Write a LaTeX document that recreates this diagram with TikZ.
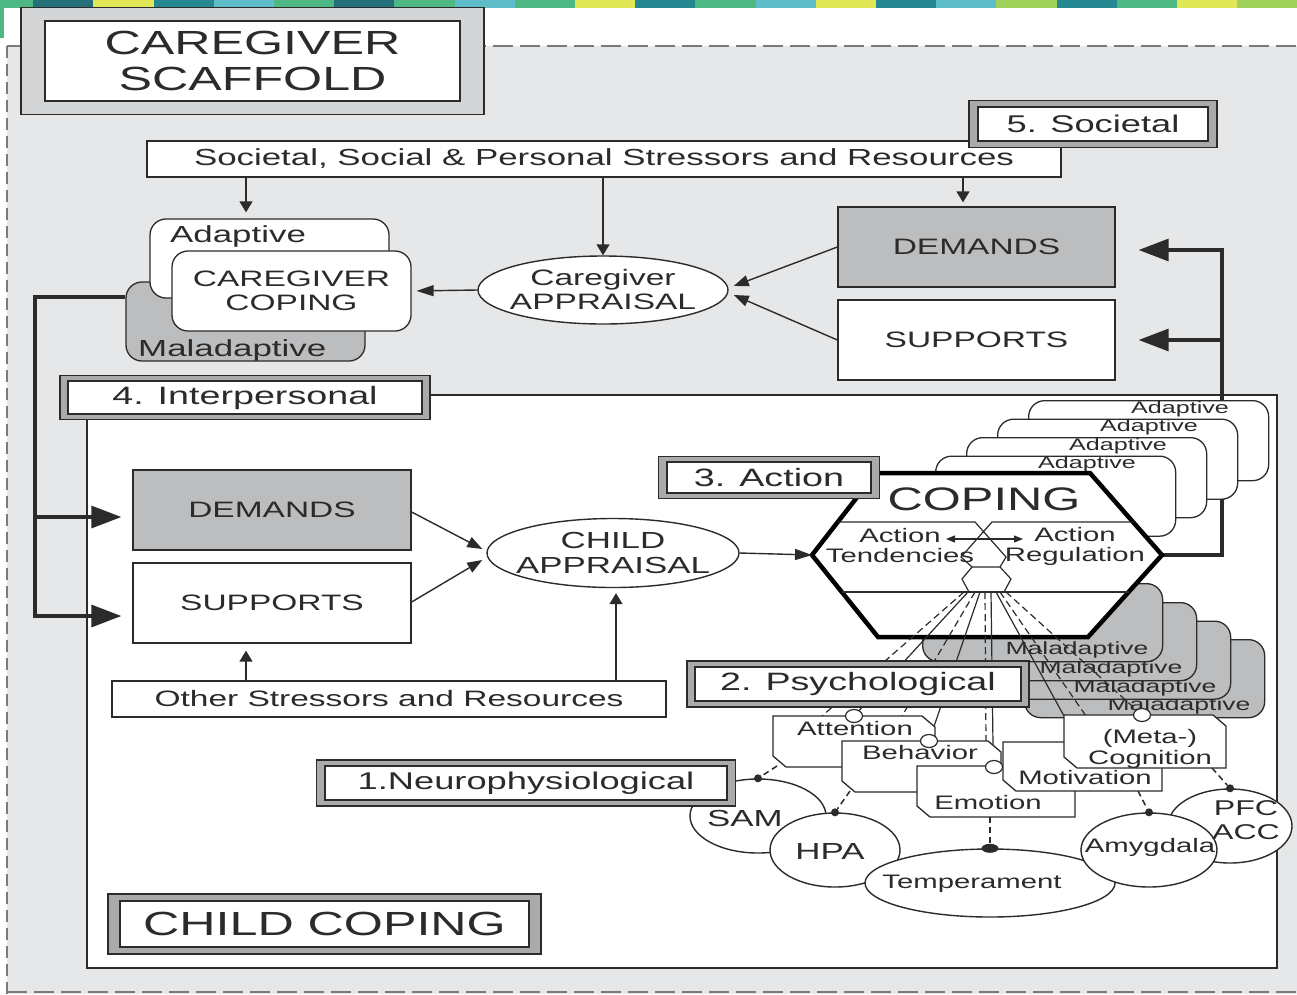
\documentclass[tikz,border=0pt]{standalone}
\usepackage{fontspec}
\setmainfont{Liberation Sans}[FakeStretch=1.5]
\usetikzlibrary{calc,arrows.meta,shapes.geometric}

\definecolor{bggray}{HTML}{E6E7E8}
\definecolor{boxgray}{HTML}{BCBDBF}
\definecolor{bandgray}{HTML}{A9AAAC}
\definecolor{bandlight}{HTML}{D4D5D7}
\definecolor{ink}{HTML}{2B2B2B}
\definecolor{dashgray}{HTML}{7A7A7A}
\definecolor{sgreen}{HTML}{4DB884}
\definecolor{sdteal}{HTML}{236F7A}
\definecolor{syellow}{HTML}{E1E858}
\definecolor{steal}{HTML}{25878F}
\definecolor{scyan}{HTML}{5EBDC9}
\definecolor{slime}{HTML}{A0D15A}

% sizes are given as nominal widths; the wide face is set a little smaller
\newcommand\fsz[1]{\fontsize{\fpeval{#1*0.93}}{#1}\selectfont}
\newcommand\fszb[2]{\fontsize{\fpeval{#1*0.93}}{#2}\selectfont}

% level label: grey frame with a white inner box carrying the text
% name, centre, inner width, inner height, band x, band y, band colour, font size, text
\newcommand\framedlabel[9]{%
  \draw[frameout, fill=#7] ($(#2)+({-#3/2-#5},{-#4/2-#6})$) rectangle ($(#2)+({#3/2+#5},{#4/2+#6})$);
  \node[framein, font=\fsz{#8}, minimum width=#3pt, minimum height=#4pt] (#1) at (#2) {#9};}

% psychological process box, top-right and bottom-left corners cut
\newcommand\psybox[4]{%
  \draw[psy] (#1,#2) -- ({#3-13},#2) -- (#3,{#2+11}) -- (#3,#4) -- ({#1+13},#4) -- (#1,{#4-11}) -- cycle;}

\tikzset{
  box/.style={draw=ink, line width=1.3pt, rectangle, inner sep=0pt, align=center, text=ink},
  rbox/.style={draw=ink, line width=1.3pt, rectangle, rounded corners=16pt, inner sep=0pt},
  ell/.style={draw=ink, line width=1.4pt, ellipse, fill=white, inner sep=0pt},
  frameout/.style={draw=ink, line width=1.3pt},
  framein/.style={draw=ink, line width=2pt, fill=white, inner sep=0pt, align=center, text=ink},
  psy/.style={draw=ink, line width=1.3pt, fill=white, line join=miter},
  knob/.style={ellipse, draw=ink, line width=1.2pt, fill=white, minimum width=17pt, minimum height=13pt, inner sep=0pt},
  blob/.style={circle, fill=ink, minimum size=8pt, inner sep=0pt},
  txt/.style={inner sep=0pt, text=ink, align=center},
  cline/.style={draw=ink, line width=1.4pt},
  varr/.style={cline, -{Triangle[length=11pt,width=13pt]}},
  harr/.style={cline, -{Triangle[length=17pt,width=11pt]}},
  darr/.style={cline, -{Triangle[length=15pt,width=11pt]}},
  fb/.style={draw=ink, line width=3.2pt},
  bigarr/.style={fb, -{Triangle[length=30pt,width=22pt]}},
  fan/.style={draw=ink, line width=1.2pt},
  fandash/.style={fan, dash pattern=on 7pt off 4pt},
  link/.style={draw=ink, line width=1.5pt, dash pattern=on 6pt off 4pt},
}

\begin{document}
\begin{tikzpicture}[x=1pt, y=-1pt]
\clip (0,0) rectangle (1297,994);
\fill[white] (0,0) rectangle (1297,994);

% colour strip along the top edge
\foreach \c [count=\i from 0] in {sgreen,sdteal,syellow,steal,scyan,sgreen,sdteal,sgreen,scyan,sgreen,syellow,steal,sgreen,scyan,syellow,steal,scyan,slime,steal,sgreen,syellow,slime}
  \fill[\c] ({max(0,-27+\i*60.2)},0) rectangle ({-27+(\i+1)*60.2},8);
\fill[sgreen] (0,0) rectangle (4,38);

% caregiver scaffold region
\fill[bggray] (7,46) rectangle (1297,994);
\draw[dashgray, line width=1.6pt, dash pattern=on 20pt off 7pt] (7,46) -- (1297,46);
\draw[dashgray, line width=1.6pt, dash pattern=on 20pt off 7pt] (7,992) -- (1297,992);
\draw[dashgray, line width=1.6pt, dash pattern=on 12pt off 6pt] (7,46) -- (7,994);

\framedlabel{scaffold}{252.5,61}{415}{80}{24}{13.5}{bandlight}{36}{CAREGIVER\\SCAFFOLD}

% societal level
\node[box, fill=white, font=\fsz{25}, minimum width=914pt, minimum height=36pt] (soc) at (604,159)
  {Societal, Social \& Personal Stressors and Resources};
\framedlabel{societal}{1093,124}{230}{34}{9}{6.5}{bandgray}{26}{5. Societal}

% caregiver coping stack
\node[rbox, fill=boxgray, minimum width=239pt, minimum height=79pt] (cgmal) at (245.5,321.5) {};
\node[txt, anchor=base west, font=\fsz{25}] (cgmalt) at (138,356) {Maladaptive};
\node[rbox, fill=white, minimum width=239pt, minimum height=79pt] (cgad) at (269.5,258.5) {};
\node[txt, anchor=base west, font=\fsz{25}] (cgadt) at (170,242) {Adaptive};
\node[rbox, fill=white, minimum width=239pt, minimum height=80pt, font=\fszb{24}{24}, align=center, text=ink] (cgcop) at (291.5,291) {CAREGIVER\\COPING};

\node[ell, minimum width=250pt, minimum height=68pt] (capp) at (603,290) {};
\node[txt, font=\fszb{24}{24}] (cappt) at (capp.center) {Caregiver\\APPRAISAL};
\node[box, fill=boxgray, font=\fsz{24}, minimum width=277pt, minimum height=80pt] (cdem) at (976.5,247) {DEMANDS};
\node[box, fill=white, font=\fsz{24}, minimum width=277pt, minimum height=80pt] (csup) at (976.5,340) {SUPPORTS};

\coordinate (sx1) at (246,0);
\coordinate (sx3) at (963,0);
\draw[varr, shorten >=6pt] (soc.south -| sx1) -- (cgad.north -| sx1);
\draw[varr] (soc.south -| capp.north) -- (capp.north);
\draw[varr, shorten >=4pt] (soc.south -| sx3) -- (cdem.north -| sx3);
\draw[harr, shorten >=5pt] (capp.west) -- (cgcop.east);
\draw[darr] (cdem.west) -- ($(capp.east)+(5,-4)$);
\draw[darr] (csup.west) -- ($(capp.east)+(5,5)$);

% child coping frame
\node[draw=ink, line width=1.4pt, fill=white, minimum width=1190pt, minimum height=573pt, inner sep=0pt] (childbox) at (682,681.5) {};
\framedlabel{interpersonal}{245,397.5}{354}{33}{8}{5.5}{bandgray}{27}{4. Interpersonal}

% hexagon corners
\coordinate (hexL) at (812,555);
\coordinate (hexTL) at (876,473);
\coordinate (hexTR) at (1090,473);
\coordinate (hexR) at (1162,555);
\coordinate (hexBR) at (1088,637);
\coordinate (hexBL) at (878,637);

% child demands / supports
\node[box, fill=boxgray, font=\fsz{24}, minimum width=278pt, minimum height=80pt] (chdem) at (272,510) {DEMANDS};
\node[box, fill=white, font=\fsz{24}, minimum width=278pt, minimum height=80pt] (chsup) at (272,603) {SUPPORTS};

% caregiver coping feeds the child's demands and supports
\coordinate (lfb) at (35,297);
\coordinate (chdemIn) at ($(chdem.west)+(0,7)$);
\coordinate (chsupIn) at ($(chsup.west)+(0,13)$);
\draw[bigarr, shorten >=11pt] ($(cgmal.west)+(0,-24.5)$) -- (lfb) |- (chsupIn);
\draw[bigarr, shorten >=11pt] (lfb |- chdemIn) -- (chdemIn);

% child coping feeds back to the caregiver's demands and supports
\coordinate (rfb) at (1222,555);
\coordinate (cdemIn) at ($(cdem.east)+(0,3)$);
\draw[bigarr, shorten >=23pt] (hexR) -- (rfb) |- (cdemIn);
\draw[bigarr, shorten >=23pt] (rfb |- csup.east) -- (csup.east);

% adaptive outcomes behind the hexagon
\foreach \x/\y/\n in {1028/400/1,997/418.5/2,966/437/3,935/455.5/4} {
  \node[rbox, fill=white, minimum width=240pt, minimum height=80pt, anchor=north west] (ad\n) at (\x,\y) {};
  \node[txt, font=\fsz{18}] (adt\n) at (\x+152,\y+9) {Adaptive};
}
% maladaptive outcomes behind the hexagon
\foreach \x/\y/\n in {1024/639/4,990/620.5/3,956/602/2,922/583/1} {
  \node[rbox, fill=boxgray, minimum width=240pt, minimum height=78pt, anchor=north west] (mal\n) at (\x,\y) {};
  \node[txt, font=\fsz{19}] (malt\n) at (\x+155,\y+67) {Maladaptive};
}

% coping hexagon
\filldraw[fill=white, draw=black, line width=4.5pt, line join=miter]
  (hexL) -- (hexTL) -- (hexTR) -- (hexR) -- (hexBR) -- (hexBL) -- cycle;
\draw[fan] (838,522) -- (975,522) -- (1006,557) -- (1000,567) -- (972,567) -- (961,557) -- (992,522) -- (1133,522);
\draw[fan] (972,567) -- (962,579) -- (969,592);
\draw[fan] (1000,567) -- (1011,579) -- (1004,592);
\draw[fan] (842,592) -- (1129,592);
\node[txt, font=\fsz{35}] (coping) at (984,499) {COPING};
\node[txt, font=\fszb{21}{20}] (tend) at (900,546) {Action\\Tendencies};
\node[txt, font=\fszb{21}{20}] (regu) at (1075,546) {Action\\Regulation};
\coordinate (actL) at (946,539);
\coordinate (actR) at (1023,539);
\draw[fan, {Triangle[length=9pt,width=7pt]}-{Triangle[length=9pt,width=7pt]}] (actL) -- (actR);

% points where the psychological processes attach
\coordinate (attk) at (854,716);
\coordinate (behk) at (929,741);
\coordinate (emok) at (994,767);
\coordinate (cogk) at (1142,715);

% links from coping to the psychological processes
\draw[fandash] (964,592) -- (822,716);
\draw[fan] (968,592) -- (attk);
\draw[fandash] (975,592) -- (902,716);
\draw[fan] (980,592) -- (behk);
\draw[fandash] (985,592) -- (986,745);
\draw[fan] (991,592) -- (993,745);
\draw[fan] (996,592) -- (1064,716);
\draw[fandash] (1000,592) -- (1086,716);
\draw[fandash] (1006,592) -- (cogk);

\framedlabel{action}{769,477.5}{204}{31}{8.5}{5.5}{bandgray}{27}{3. Action}

% child appraisal
\node[ell, minimum width=252pt, minimum height=69pt] (chapp) at (613,553) {};
\node[txt, font=\fszb{25}{25}] (chappt) at (chapp.center) {CHILD\\APPRAISAL};
\node[box, fill=white, font=\fsz{24}, minimum width=554pt, minimum height=36pt] (oth) at (389,699) {Other Stressors and Resources};
\coordinate (ox2) at (616,0);
\draw[varr, shorten >=7pt] (oth.north -| sx1) -- (chsup.south -| sx1);
\draw[varr, shorten >=5pt] (oth.north -| ox2) -- (chapp.south -| ox2);
\draw[darr] ($(chdem.east)+(0,2)$) -- ($(chapp.west)+(-4,-4)$);
\draw[darr] ($(chsup.east)+(0,-1)$) -- ($(chapp.west)+(-4,7)$);
\draw[harr] (chapp.east) -- (hexL);

% psychological level
\framedlabel{psych}{858,684}{326}{34}{8}{6}{bandgray}{27}{2. Psychological}

\psybox{773}{716}{935}{767}
\node[knob] (attknob) at (attk) {};
\node[txt, font=\fsz{21}] (att) at (855,729) {Attention};
\psybox{842}{741}{1001}{792}
\node[knob] (behknob) at (behk) {};
\node[txt, font=\fsz{21}] (beh) at (920,753) {Behavior};
\psybox{917}{766}{1075}{817}
\node[knob] (emoknob) at (emok) {};
\node[txt, font=\fsz{21}] (emo) at (988,803) {Emotion};
\psybox{1003}{742}{1162}{791}
\node[txt, font=\fsz{21}] (mot) at (1085,778) {Motivation};
\psybox{1064}{715}{1226}{768}
\node[knob] (cogknob) at (cogk) {};
\node[txt, font=\fszb{21}{21}] (cog) at (1150,749) {(Meta-)\\Cognition};

% neurophysiological level
\node[ell, minimum width=136pt, minimum height=74pt] (sam) at (758,816) {};
\node[ell, minimum width=130pt, minimum height=74pt] (hpa) at (835,850) {};
\node[ell, minimum width=124pt, minimum height=74pt] (pfc) at (1230,826) {};
\node[ell, minimum width=250pt, minimum height=68pt] (temp) at (990,883) {};
\node[ell, minimum width=136pt, minimum height=74pt] (amy) at (1149,850) {};
\node[txt, font=\fsz{25}] (samt) at (745,818) {SAM};
\node[txt, font=\fsz{25}] (hpat) at (830,851) {HPA};
\node[txt, font=\fsz{21}] (tempt) at (972,884) {Temperament};
\node[txt, font=\fsz{21}] (amyt) at (1150,847) {Amygdala};
\node[txt, font=\fszb{23}{24}] (pfct) at (1246,820) {PFC\\ACC};

\node[blob] (samd) at (sam.north) {};
\node[blob] (hpad) at (hpa.north) {};
\node[blob] (amyd) at (amy.north) {};
\node[blob] (pfcd) at (pfc.north) {};
\node[ellipse, fill=ink, minimum width=17pt, minimum height=9pt, inner sep=0pt] (tempd) at (temp.north) {};

\coordinate (attbl) at (777,766);
\coordinate (behbl) at (850,791);
\coordinate (emob) at (990,817);
\coordinate (motb) at (1138,791);
\coordinate (cogbr) at (1212,768);
\draw[link] (attbl) -- (samd);
\draw[link] (behbl) -- (hpad);
\draw[link] (emob) -- (tempd);
\draw[link] (motb) -- (amyd);
\draw[link] (cogbr) -- (pfcd);

\framedlabel{neuro}{526,783}{402}{34}{8.5}{6}{bandgray}{26}{1.Neurophysiological}
\framedlabel{childcoping}{324.5,924}{409}{46}{12}{7}{bandgray}{36}{CHILD COPING}
\end{tikzpicture}
\end{document}
